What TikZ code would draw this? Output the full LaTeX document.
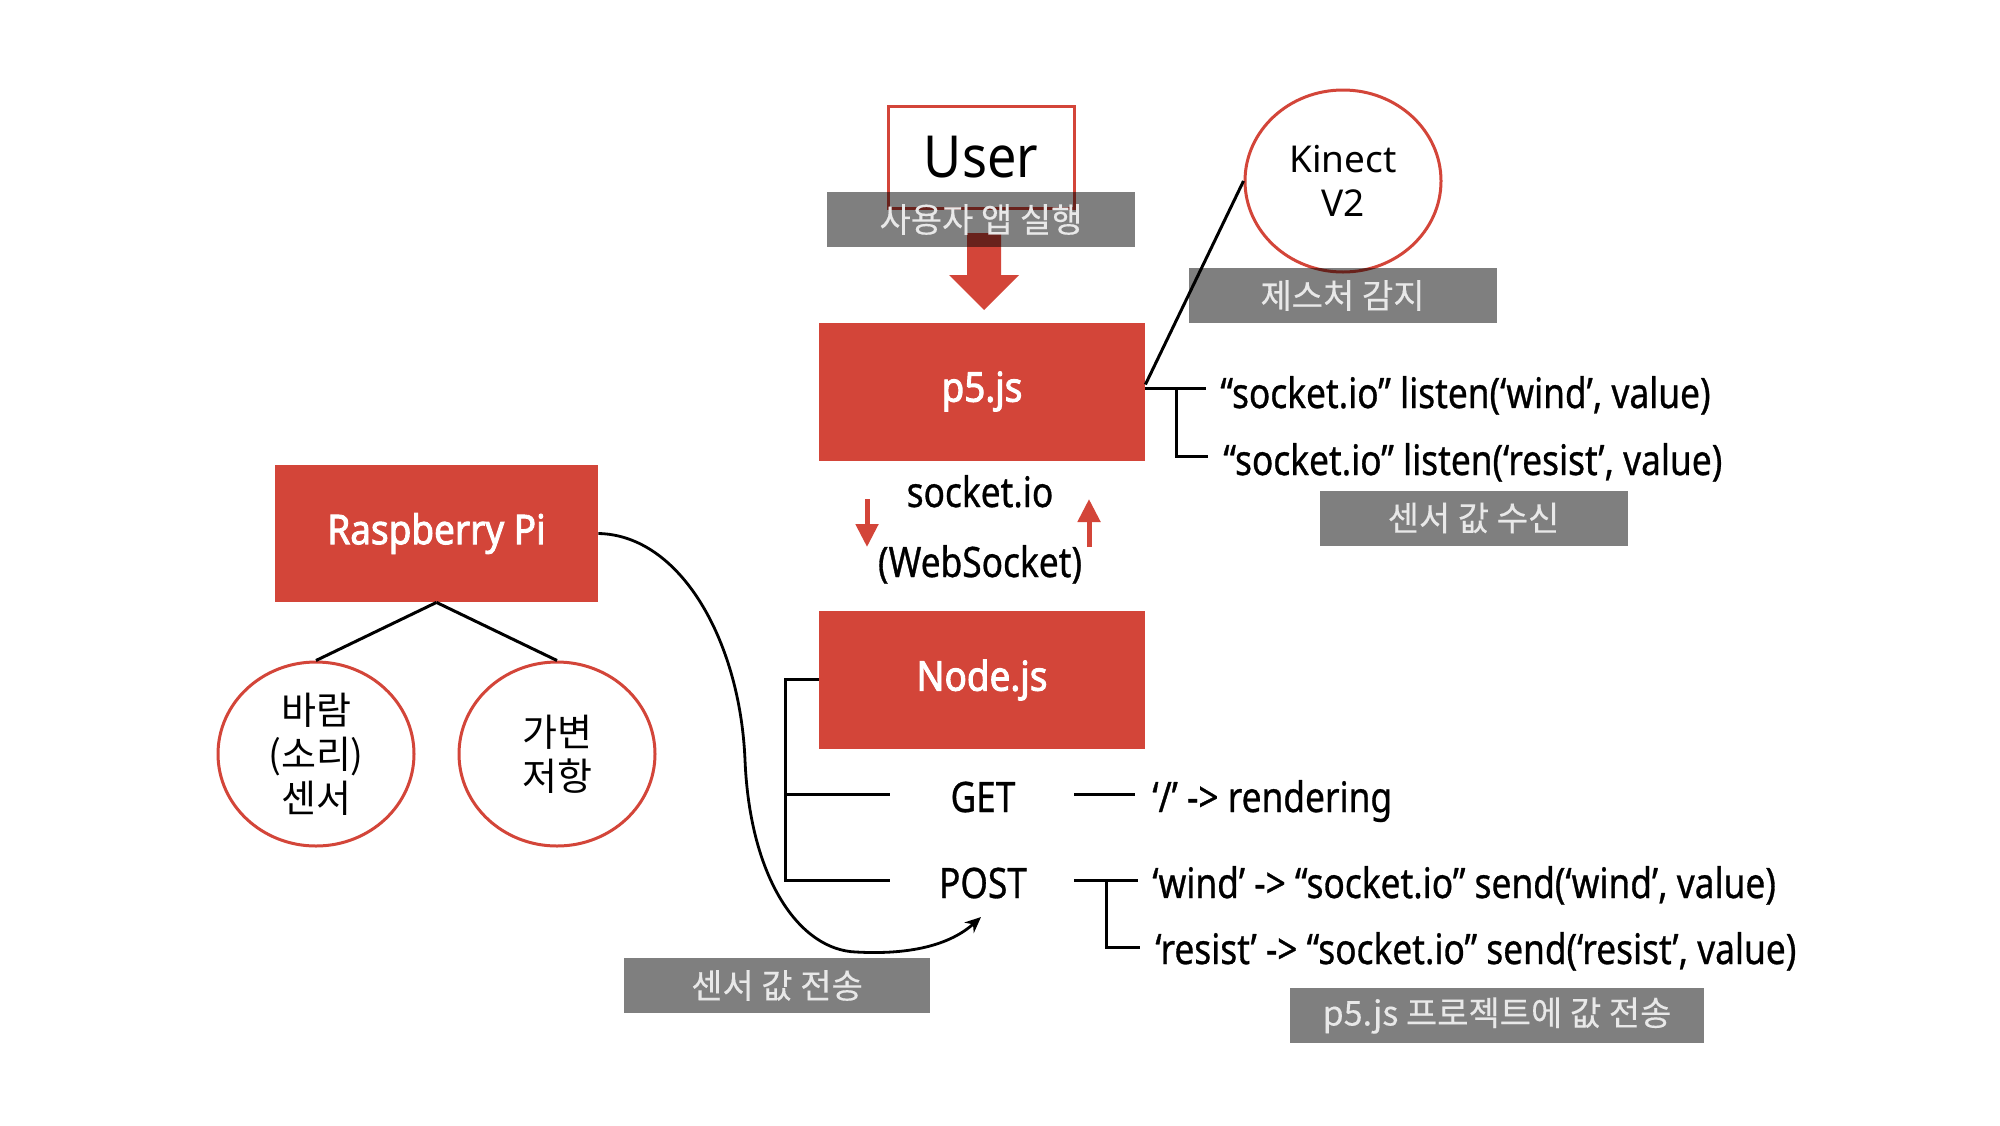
\documentclass[tikz,border=0pt]{standalone}
\usepackage{fontspec}
\setmainfont{Noto Sans CJK KR}
\newfontfamily\cnd[FakeStretch=0.84,FakeBold=0.7]{Noto Sans}
\newfontfamily\bcnd[FakeStretch=0.9,FakeBold=2.2]{Noto Sans}
\newfontfamily\usr[FakeStretch=0.9]{Noto Sans}
\newfontfamily\lat{Noto Sans}
\newfontfamily\kor[FakeBold=0.3]{Noto Sans CJK KR}
\usetikzlibrary{shapes.geometric,arrows.meta,calc}
\definecolor{rd}{RGB}{211,69,57}
\definecolor{lt}{RGB}{232,232,232}
\begin{document}
\begin{tikzpicture}[x=0.5pt,y=-0.5pt,
 redbox/.style={rectangle, fill=rd, text=white, inner sep=0, minimum width=163pt, minimum height=69pt, font=\fontsize{20.5}{24}\bcnd},
 graylbl/.style={rectangle, fill=black, fill opacity=0.5, text opacity=1, text=lt, inner sep=0, minimum width=154pt, minimum height=27.5pt, font=\fontsize{17}{19}\kor},
 ring/.style={ellipse, draw=rd, line width=1.5pt, fill=white, inner sep=0, minimum width=98pt, minimum height=91pt, align=center, font=\fontsize{19}{22}\selectfont},
 conn/.style={line width=1.5pt, black},
 txt/.style={inner sep=0, font=\fontsize{21}{25}\cnd, anchor=base west},
 ctxt/.style={inner sep=0, font=\fontsize{21}{25}\cnd, anchor=base},
 redarr/.style={rd, line width=2.5pt, -{Triangle[length=11.5pt,width=11pt]}}
]
\useasboundingbox (0,0) rectangle (2000,1125);
\fill[white] (0,0) rectangle (2000,1125);

% User
\node[rectangle, draw=rd, line width=1.5pt, inner sep=0, minimum width=93pt, minimum height=51pt, font=\fontsize{29}{32}\usr] (user) at (981,157) {User};
\fill[rd] (967,233) -- (1001,233) -- (1001,275) -- (1019,275) -- (984,310) -- (949,275) -- (967,275) -- cycle;
\node[graylbl] (userlbl) at (981,219.5) {사용자 앱 실행};

% p5.js
\node[redbox] (p5) at (982,391.5) {p5.js};

% Kinect
\node[ring, font=\fontsize{18.5}{22}\lat] (kinect) at (1343,181) {Kinect\\V2};
\node[graylbl] (kinlbl) at (1342.5,295.5) {제스처 감지};
\draw[conn] ($(p5.east)+(0,-7)$) -- (kinect.west);

% p5 bracket
\draw[conn] ($(p5.east)+(0,-3)$) -- (1206,388.5);
\draw[conn] (1176,388.5) -- (1176,456) -- (1208,456);
\node[txt] (l1) at (1220,408) {“socket.io” listen(‘wind’, value)};
\node[txt] (l2) at (1223,475) {“socket.io” listen(‘resist’, value)};
\node[graylbl] (recv) at (1473.5,518) {센서 값 수신};

% socket.io
\node[ctxt] (sio) at (980,507) {socket.io};
\node[ctxt] (ws) at (980,577) {(WebSocket)};
\coordinate (da1) at (867,499);
\coordinate (da2) at (867,547);
\coordinate (ua1) at (1089,547);
\coordinate (ua2) at (1089,499);
\draw[redarr] (da1) -- (da2);
\draw[redarr] (ua1) -- (ua2);

% Node.js
\node[redbox] (node) at (982,680) {Node.js};
\draw[conn] ($(node.west)+(0,-1)$) -- (785,679) -- (785,880) -- (890,880);
\draw[conn] (785,794) -- (890,794);
\node[ctxt] (get) at (983,812) {GET};
\node[ctxt] (post) at (983,898) {POST};
\draw[conn] (1074,794) -- (1135,794);
\node[txt] (render) at (1152,812) {‘/’ -> rendering};
\draw[conn] (1074,880) -- (1138,880);
\draw[conn] (1106,880) -- (1106,947) -- (1140,947);
\node[txt] (wind) at (1152,898) {‘wind’ -> “socket.io” send(‘wind’, value)};
\node[txt] (resist) at (1155,964) {‘resist’ -> “socket.io” send(‘resist’, value)};
\node[graylbl, minimum width=207pt] (proj) at (1497,1015.5) {p5.js 프로젝트에 값 전송};

% Raspberry Pi
\node[redbox, minimum width=161.5pt, minimum height=68.5pt] (rpi) at (436.5,533.5) {Raspberry Pi};
\node[ring, minimum height=92pt] (s1) at (316,754) {바람\\(소리)\\센서};
\node[ring, minimum height=92pt] (s2) at (557,754) {가변\\저항};
\draw[conn] (rpi.south) -- (s1.north);
\draw[conn] (rpi.south) -- (s2.north);

% curve to POST
\coordinate (postin) at (981,917);
\draw[line width=1.4pt, -{Stealth[length=8pt,width=7pt]}] (rpi.east) .. controls (680,535) and (740,640) .. (745,760) .. controls (750,880) and (800,950) .. (856,952) .. controls (910,955) and (950,945) .. (postin);
\node[graylbl, minimum width=153pt] (sendlbl) at (777,985.5) {센서 값 전송};
\end{tikzpicture}
\end{document}
